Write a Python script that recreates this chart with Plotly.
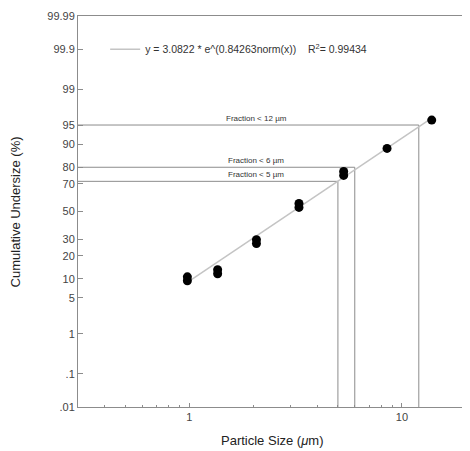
import numpy as np
import plotly.graph_objects as go
from statistics import NormalDist

# measured particle sizes (um) and cumulative undersize (%), replicate readings
size_um = [0.98, 0.98, 1.36, 1.36, 2.07, 2.07, 3.28, 3.28, 5.32, 5.32, 8.51, 13.8]
undersize_pct = [10.7, 9.4, 13.4, 11.8, 29.6, 27.1, 56.1, 53.1, 77.7, 75.4, 88.5, 95.9]

# fitted line end points
fit_size = [1.02, 13.8]
fit_pct = [9.7, 96.2]

# fraction guide lines
frac_size = [5, 6, 12]
frac_pct = [71.7, 80, 95]
frac_labels = ["Fraction < 5 \u00b5m", "Fraction < 6 \u00b5m", "Fraction < 12 \u00b5m"]

y_tick_pct = [0.01, 0.1, 1, 5, 10, 20, 30, 50, 70, 80, 90, 95, 99, 99.9, 99.99]
y_tick_text = [".01", ".1", "1", "5", "10", "20", "30", "50", "70", "80", "90", "95", "99", "99.9", "99.99"]
x_minor = [0.4, 0.5, 0.6, 0.7, 0.8, 0.9, 2, 3, 4, 5, 6, 7, 8, 9]

nd = NormalDist()


def probit(p):
    return [nd.inv_cdf(v / 100.0) for v in p]


ymin, ymax = probit([0.01, 99.99])
xmin, xmax = 0.3, 20

LINE = "#8c8c8c"
FONT = "Liberation Sans, Arial, sans-serif"

fig = go.Figure()

# guide lines: horizontal from left edge, then vertical down to the bottom
for s, p in zip(frac_size, frac_pct):
    z = probit([p])[0]
    fig.add_trace(go.Scatter(
        x=[xmin, s, s], y=[z, z, ymin], mode="lines",
        line=dict(color=LINE, width=1), showlegend=False, hoverinfo="skip"))

fig.add_trace(go.Scatter(
    x=fit_size, y=probit(fit_pct), mode="lines",
    line=dict(color="#c4c4c4", width=1.5),
    name="y = 3.0822 * e^(0.84263norm(x))    R<sup>2</sup>= 0.99434"))

fig.add_trace(go.Scatter(
    x=size_um, y=probit(undersize_pct), mode="markers",
    marker=dict(color="black", size=9), showlegend=False))

for s, p, lab in zip(frac_size, frac_pct, frac_labels):
    fig.add_annotation(
        x=np.log10(2.07), y=probit([p])[0], text=lab, showarrow=False,
        yanchor="bottom", yshift=0, font=dict(size=8, color="#333", family=FONT))

# axis titles as annotations so the margins stay fixed
fig.add_annotation(
    x=0.5, y=-0.085, xref="paper", yref="paper", text="Particle Size (<i>\u03bc</i>m)",
    showarrow=False, yanchor="middle", font=dict(size=13, color="#222"))
fig.add_annotation(
    x=-0.16, y=0.5, xref="paper", yref="paper", text="Cumulative Undersize (%)",
    textangle=-90, showarrow=False, xanchor="center", font=dict(size=13, color="#222"))

fig.update_xaxes(
    type="log", range=[np.log10(xmin), np.log10(xmax)], automargin=False,
    tickmode="array", tickvals=[1, 10], ticktext=["1", "10"],
    ticks="inside", ticklen=4, tickcolor=LINE,
    minor=dict(tickmode="array", tickvals=x_minor, ticks="inside", ticklen=2, tickcolor=LINE),
    showgrid=False, zeroline=False, showline=True, linecolor=LINE, mirror=True,
    tickfont=dict(size=11, color="#444"))

fig.update_yaxes(
    range=[ymin, ymax], automargin=False,
    tickmode="array", tickvals=probit(y_tick_pct), ticktext=y_tick_text,
    ticks="inside", ticklen=5, tickcolor=LINE,
    showgrid=False, zeroline=False, showline=True, linecolor=LINE, mirror=True,
    tickfont=dict(size=11, color="#444"))

# page body adds an 8px offset, so the margins are trimmed to compensate
fig.update_layout(
    width=470, height=451,
    margin=dict(l=70, r=12, t=8, b=52),
    paper_bgcolor="white", plot_bgcolor="white",
    font=dict(family=FONT),
    legend=dict(x=0.07, y=0.915, xanchor="left", yanchor="middle", bgcolor="rgba(0,0,0,0)",
                font=dict(size=10.5, color="#333"), itemwidth=30),
)

fig.write_html("out.html")
